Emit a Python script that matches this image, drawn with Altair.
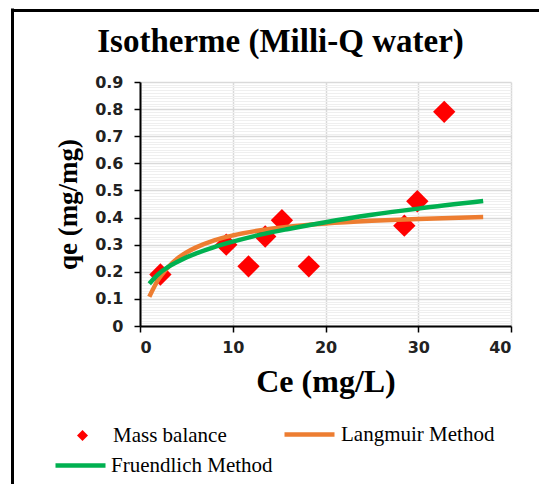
import altair as alt
import pandas as pd

# Measured data (Mass balance)
ce = [2.2, 9.3, 11.7, 13.5, 15.3, 18.2, 28.5, 29.9, 32.8]
qe = [0.19, 0.30, 0.22, 0.33, 0.39, 0.22, 0.37, 0.46, 0.79]

# Fitted curves
fit_ce = [1, 2, 3, 4, 5, 6, 8, 10, 13, 16, 20, 25, 30, 37]
langmuir_qe = [0.108, 0.173, 0.216, 0.248, 0.271, 0.289, 0.316, 0.334, 0.353, 0.366, 0.378, 0.388, 0.395, 0.402]
fruendlich_qe = [0.156, 0.192, 0.217, 0.236, 0.253, 0.267, 0.291, 0.311, 0.337, 0.358, 0.383, 0.410, 0.433, 0.461]

x_ticks = [0, 10, 20, 30, 40]
y_ticks = [round(i * 0.01, 2) for i in range(91)]

points_df = pd.DataFrame({"ce": ce, "qe": qe, "series": "Mass balance"})
lang_df = pd.DataFrame({"ce": fit_ce, "qe": langmuir_qe, "series": "Langmuir Method"})
fru_df = pd.DataFrame({"ce": fit_ce, "qe": fruendlich_qe, "series": "Fruendlich Method"})
frame_df = pd.DataFrame({"k": [0]})

major = "round(datum.value*100) % 10 === 0"

x_axis = alt.Axis(
    values=x_ticks, title="Ce (mg/L)", grid=True, gridColor="#d9d9d9", gridWidth=1.5,
    domainColor="black", domainWidth=2, tickColor="black", tickSize=6, tickWidth=1.5,
    labelFont="DejaVu Sans", labelFontWeight="bold", labelFontSize=16, labelColor="#222",
    labelPadding=7, titleFont="Liberation Serif", titleFontWeight="bold", titleFontSize=32,
    titleColor="black", titleY=65, titleBaseline="alphabetic",
)
y_axis = alt.Axis(
    values=y_ticks, title="qe (mg/mg)", grid=True,
    gridColor={"condition": {"test": major, "value": "#d9d9d9"}, "value": "#efefef"},
    gridWidth={"condition": {"test": major, "value": 1.5}, "value": 1},
    domainColor="black", domainWidth=2,
    tickColor={"condition": {"test": major, "value": "black"}, "value": "rgba(0,0,0,0)"},
    tickSize=6, tickWidth=1.5,
    labelExpr="round(datum.value*100) % 10 === 0 ? (datum.value === 0 ? '0' : format(datum.value, '.1f')) : ''",
    labelOverlap=False, labelFont="DejaVu Sans", labelFontWeight="bold", labelFontSize=16,
    labelColor="#222", labelPadding=11,
    titleFont="Liberation Serif", titleFontWeight="bold", titleFontSize=27, titleColor="black",
    titleX=-64, titleBaseline="alphabetic",
)

X = alt.X("ce:Q", scale=alt.Scale(domain=[0, 40], nice=False), axis=x_axis)
Y = alt.Y("qe:Q", scale=alt.Scale(domain=[0, 0.9], nice=False), axis=y_axis)

leg_common = dict(orient="none", title=None, padding=0, labelFont="Liberation Serif",
                  labelFontSize=21, labelColor="black", labelLimit=400)

points = alt.Chart(points_df).mark_point(shape="diamond", filled=True, size=500, opacity=1).encode(
    x=X, y=Y,
    fill=alt.Fill("series:N", scale=alt.Scale(domain=["Mass balance"], range=["#FF0000"]),
                  legend=alt.Legend(symbolType="diamond", symbolSize=121, symbolStrokeWidth=0,
                                    legendX=-68, legendY=343, labelOffset=20, **leg_common)),
)

lang = alt.Chart(lang_df).mark_line(strokeWidth=4.5, interpolate="monotone").encode(
    x=X, y=Y,
    color=alt.Color("series:N", scale=alt.Scale(domain=["Langmuir Method"], range=["#ED7D31"]),
                    legend=alt.Legend(symbolType="stroke", symbolSize=2500, symbolStrokeWidth=4.5,
                                      legendX=142, legendY=325, labelOffset=4, **leg_common)),
)

fru = alt.Chart(fru_df).mark_line(strokeWidth=4.5, interpolate="monotone").encode(
    x=X, y=Y,
    stroke=alt.Stroke("series:N", scale=alt.Scale(domain=["Fruendlich Method"], range=["#00B050"]),
                      legend=alt.Legend(symbolType="stroke", symbolSize=2500, symbolStrokeWidth=4.5,
                                        legendX=-87, legendY=356, labelOffset=3, **leg_common)),
)

frame_left = alt.Chart(frame_df).mark_rule(color="black", strokeWidth=3).encode(
    x=alt.value(-127.5), y=alt.value(-73.5), y2=alt.value(420)
)
frame_top = alt.Chart(frame_df).mark_rule(color="black", strokeWidth=3).encode(
    x=alt.value(-129), x2=alt.value(420), y=alt.value(-71.5)
)

chart = alt.layer(points, lang, fru, frame_left, frame_top).resolve_scale(
    color="independent", fill="independent", stroke="independent"
).properties(
    width=371, height=244,
    padding={"left": 140, "top": 82, "right": 28, "bottom": 158},
    autosize=alt.AutoSizeParams(type="none"),
    background="white",
    title=alt.TitleParams("Isotherme  (Milli-Q water)", font="Liberation Serif", fontSize=33,
                          fontWeight="bold", color="black", anchor="middle", dx=-45,
                          offset=0, dy=78, baseline="alphabetic"),
).configure_view(stroke=None)

chart.save("out.html", embed_options={"renderer": "svg", "actions": False})
